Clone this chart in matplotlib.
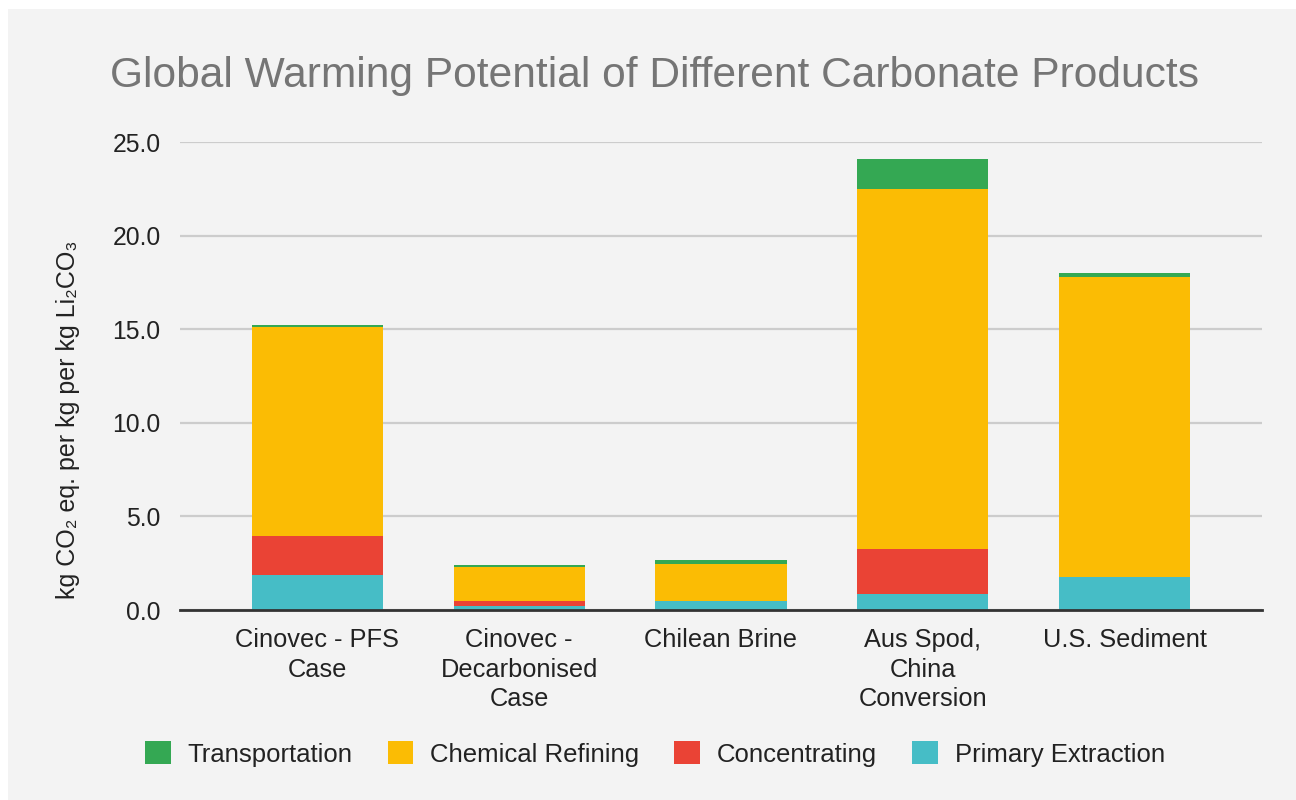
import matplotlib
matplotlib.use("Agg")
import matplotlib.pyplot as plt
from matplotlib.patches import Patch, Rectangle
import numpy as np

plt.rcParams['font.family'] = ['Liberation Sans', 'DejaVu Sans']

categories = ["Cinovec - PFS\nCase", "Cinovec -\nDecarbonised\nCase", "Chilean Brine",
              "Aus Spod,\nChina\nConversion", "U.S. Sediment"]
primary_extraction = [1.88, 0.24, 0.49, 0.83, 1.75]
concentrating = [2.06, 0.25, 0.0, 2.44, 0.0]
chemical_refining = [11.18, 1.83, 1.96, 19.23, 16.02]
transportation = [0.11, 0.11, 0.23, 1.60, 0.23]

series_names = ["Transportation", "Chemical Refining", "Concentrating", "Primary Extraction"]
colors = {"Primary Extraction": "#46bdc6", "Concentrating": "#ea4335",
          "Chemical Refining": "#fbbc04", "Transportation": "#34a853"}
yticks = [0, 5, 10, 15, 20, 25]

W, H = 1296, 800
fig = plt.figure(figsize=(W / 100, H / 100), dpi=100)
fig.patch.set_facecolor("white")
fig.add_artist(Rectangle((8 / W, 0), 1 - 8 / W, 1 - 9 / H, transform=fig.transFigure,
                         facecolor="#f3f3f3", edgecolor="none", zorder=-10))

ax = fig.add_axes([180 / W, 1 - 610 / H, (1262 - 180) / W, (610 - 142) / H])
ax.patch.set_alpha(0)

x = np.arange(len(categories))
bw = 0.65
bottom = np.zeros(len(categories))
for name, vals in [("Primary Extraction", primary_extraction), ("Concentrating", concentrating),
                   ("Chemical Refining", chemical_refining), ("Transportation", transportation)]:
    v = np.array(vals)
    ax.bar(x, v, bw, bottom=bottom, color=colors[name], edgecolor="none", zorder=3)
    bottom += v

ax.set_xlim(-0.68, len(categories) - 1 + 0.68)
ax.set_ylim(0, 25)
ax.set_yticks(yticks)
ax.set_yticklabels([f"{t:.1f}" for t in yticks])
ax.yaxis.grid(True, color="#cccccc", linewidth=1.6, zorder=0)
ax.set_axisbelow(True)
for s in ["left", "right", "top"]:
    ax.spines[s].set_visible(False)
ax.spines["bottom"].set_color("#333333")
ax.spines["bottom"].set_linewidth(2)
ax.spines["bottom"].set_zorder(5)
ax.tick_params(axis="y", length=0, pad=14, labelsize=17.8, labelcolor="#222222")
ax.tick_params(axis="x", length=0, pad=13, labelsize=18.3, labelcolor="#222222")
ax.set_xticks(x)
ax.set_xticklabels(categories, linespacing=1.3)

ax.set_ylabel("kg CO₂ eq. per kg per kg Li₂CO₃", fontsize=18, color="#222222")
ax.yaxis.set_label_coords(-100 / (1262 - 180), 0.406)

fig.text(0.5 * (108 + 1200) / W, 1 - 76 / H,
         "Global Warming Potential of Different Carbonate Products",
         ha="center", va="center", fontsize=30.6, color="#757575")

handles = [Patch(facecolor=colors[n], edgecolor="none") for n in series_names]
leg = fig.legend(handles, series_names, loc="center", bbox_to_anchor=(655 / W, 1 - 754 / H),
                 ncol=4, frameon=False, fontsize=18.5, handlelength=1.0, handleheight=1.0,
                 handletextpad=0.66, columnspacing=1.36, labelcolor="#222222")

fig.savefig("out.png", dpi=100, facecolor=fig.get_facecolor())
